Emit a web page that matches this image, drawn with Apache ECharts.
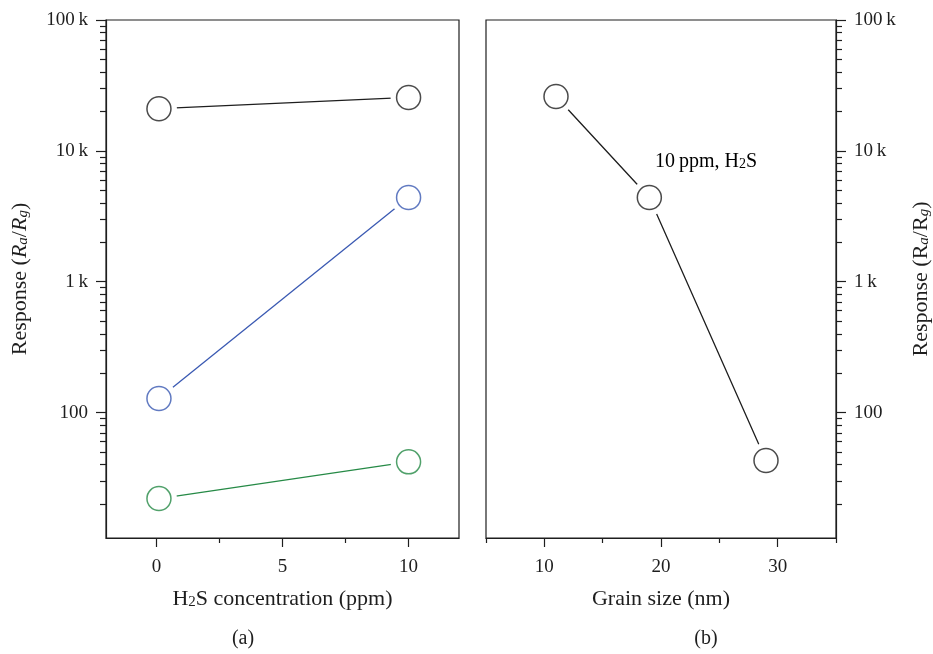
<!DOCTYPE html>
<html>
<head>
<meta charset="utf-8">
<script src="https://cdn.jsdelivr.net/npm/echarts@6/dist/echarts.min.js"></script>
<style>
  html, body { margin: 0; background: #fff; }
  #chart { width: 933px; height: 654px; }
</style>
</head>
<body>
<div id="chart"></div>
<script>
// panel (a): response vs H2S concentration
const concX = [0.1, 10]
const resBlack = [21000, 25600]
const resBlue = [128, 4400]
const resGreen = [22, 42]

// panel (b): response vs grain size (10 ppm H2S)
const grainX = [11, 19, 29]
const grainRes = [26000, 4400, 43]

// ticks
const yMajor = [100, 1000, 10000, 100000]
const yMinor = [10, 100, 1000, 10000].flatMap(d => [2, 3, 4, 5, 6, 7, 8, 9].map(m => m * d))
const concMajor = [0, 5, 10]
const concMinor = [2.5, 7.5]
const grainMajor = [10, 20, 30]
const grainMinor = [5, 15, 25, 35]

const font = 'Liberation Serif'
const ink = '#1e1e1e'
const blue = '#3a59b2'
const green = '#268a46'

// subscripts: small tokens pushed to the bottom of a taller line
const rich = {
  n: { fontFamily: font, fontSize: 22, lineHeight: 25, verticalAlign: 'bottom', color: ink },
  i: { fontFamily: font, fontSize: 22, lineHeight: 25, verticalAlign: 'bottom', color: ink, fontStyle: 'italic' },
  s: { fontFamily: font, fontSize: 15, lineHeight: 10, verticalAlign: 'bottom', color: ink },
  si: { fontFamily: font, fontSize: 15, lineHeight: 10, verticalAlign: 'bottom', color: ink, fontStyle: 'italic' },
  m: { fontFamily: font, fontSize: 20, lineHeight: 23, verticalAlign: 'bottom', color: ink },
  ms: { fontFamily: font, fontSize: 14, lineHeight: 9, verticalAlign: 'bottom', color: ink },
}

const fmtY = v => (v >= 1000 ? v / 1000 + '\u2009k' : String(v))

const chart = echarts.init(document.getElementById('chart'))

function yAxes(grid, pos, name) {
  return [
    {
      type: 'log', gridIndex: grid, position: pos, min: 11, max: 100000,
      name: name, nameLocation: 'middle', nameRotate: 90,
      nameGap: pos === 'left' ? 75 : 71,
      nameTextStyle: { rich: rich },
      axisLine: { onZero: false, lineStyle: { color: ink, width: 1.2 } },
      axisTick: { customValues: yMajor, length: 10, lineStyle: { color: ink, width: 1.2 } },
      axisLabel: { customValues: yMajor, formatter: fmtY, margin: 18, fontFamily: font, fontSize: 19, color: ink },
      splitLine: { show: false },
    },
    {
      type: 'log', gridIndex: grid, position: pos, min: 11, max: 100000,
      axisLine: { show: false, onZero: false },
      axisTick: { customValues: yMinor, length: 6, lineStyle: { color: ink, width: 1.2 } },
      axisLabel: { show: false },
      splitLine: { show: false },
    },
  ]
}

function xAxes(grid, min, max, major, minor, name) {
  return [
    {
      type: 'value', gridIndex: grid, position: 'bottom', min: min, max: max,
      name: name, nameLocation: 'middle', nameGap: 47,
      nameTextStyle: { rich: rich },
      axisLine: { onZero: false, lineStyle: { color: ink, width: 1.2 } },
      axisTick: { customValues: major, length: 9, lineStyle: { color: ink, width: 1.2 } },
      axisLabel: { customValues: major, margin: 20, fontFamily: font, fontSize: 19, color: ink },
      splitLine: { show: false },
    },
    {
      type: 'value', gridIndex: grid, position: 'bottom', min: min, max: max,
      axisLine: { show: false, onZero: false },
      axisTick: { customValues: minor, length: 5, lineStyle: { color: ink, width: 1.2 } },
      axisLabel: { show: false },
      splitLine: { show: false },
    },
  ]
}

// line with a white halo round each point, so the line stops short of the circle
function lineSeries(xi, yi, xs, ys, color) {
  const data = xs.map((x, k) => [x, ys[k]])
  return [
    {
      type: 'line', xAxisIndex: xi, yAxisIndex: yi, data: data, z: 2,
      symbol: 'circle', symbolSize: 36,
      itemStyle: { color: '#fff', borderWidth: 0 },
      lineStyle: { color: color, width: 1.3 },
    },
    {
      type: 'scatter', xAxisIndex: xi, yAxisIndex: yi, data: data, z: 3,
      symbol: 'circle', symbolSize: 24,
      itemStyle: { color: '#fff', borderColor: color, borderWidth: 1.5 },
    },
  ]
}

chart.setOption({
  animation: false,
  grid: [
    { left: 106, top: 20, width: 353, height: 518, show: true, borderColor: ink, borderWidth: 1.2 },
    { left: 486, top: 20, width: 352, height: 518, show: true, borderColor: ink, borderWidth: 1.2 },
  ],
  xAxis: [
    ...xAxes(0, -2, 12, concMajor, concMinor, '{n|H}{s|2}{n|S concentration (ppm)}'),
    ...xAxes(1, 5, 35, grainMajor, grainMinor, '{n|Grain size (nm)}'),
  ],
  yAxis: [
    ...yAxes(0, 'left', '{n|Response (}{i|R}{si|a}{n|/}{i|R}{si|g}{n|)}'),
    ...yAxes(1, 'right', '{n|Response (R}{si|a}{n|/R}{si|g}{n|)}'),
  ],
  series: [
    ...lineSeries(0, 0, concX, resBlack, ink),
    ...lineSeries(0, 0, concX, resBlue, blue),
    ...lineSeries(0, 0, concX, resGreen, green),
    ...lineSeries(2, 2, grainX, grainRes, ink),
  ],
  graphic: [
    {
      type: 'text', x: 655, y: 160,
      style: { text: '{m|10\u2009ppm, H}{ms|2}{m|S}', rich: rich, verticalAlign: 'middle' },
    },
    {
      type: 'text', x: 243, y: 639,
      style: { text: '(a)', font: '20px "Liberation Serif"', fill: ink, align: 'center', verticalAlign: 'middle' },
    },
    {
      type: 'text', x: 706, y: 639,
      style: { text: '(b)', font: '20px "Liberation Serif"', fill: ink, align: 'center', verticalAlign: 'middle' },
    },
  ],
})
</script>
</body>
</html>
